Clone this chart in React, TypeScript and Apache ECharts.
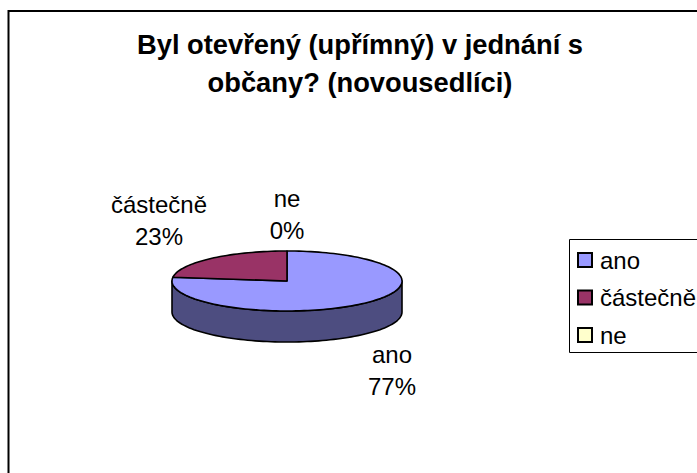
import React, { useEffect, useRef } from "react";
import * as echarts from "echarts";

const titleText = "Byl otevřený (upřímný) v jednání s\nobčany? (novousedlíci)";
const categories = ["ano", "částečně", "ne"];
const values = [77, 23, 0];
const topColors = ["#9999FF", "#993366", "#FFFFCC"];
const wallColors = ["#4D4D80", "#4D1A33", "#808066"];
const labelAnchors = [[392, 370], [159, 220], [287, 214]];

const CX = 287, CY = 281, RX = 115, RY = 30, DEPTH = 31;
const total = values.reduce((a, b) => a + b, 0);
const FONT = '"Liberation Sans", Arial, sans-serif';

function pt(deg: number, dy = 0): number[] {
  const r = (deg * Math.PI) / 180;
  return [CX + RX * Math.sin(r), CY - RY * Math.cos(r) + dy];
}
function arc(a: number, b: number, dy = 0): number[][] {
  const n = Math.max(2, Math.ceil(Math.abs(b - a) / 2));
  const out: number[][] = [];
  for (let i = 0; i <= n; i++) out.push(pt(a + ((b - a) * i) / n, dy));
  return out;
}

function makeRenderItem(index: number) {
  const before = values.slice(0, index).reduce((a, b) => a + b, 0);
  return (_params: any, api: any) => {
    const v = api.value(0) as number;
    const start = (before / total) * 360;
    const end = ((before + v) / total) * 360;
    const children: any[] = [];
    const stroke = { stroke: "#000", lineWidth: 1.6, lineJoin: "round" };
    if (v > 0) {
      const a = Math.max(start, 90);
      const b = Math.min(end, 270);
      if (b > a) {
        children.push({
          type: "polygon",
          shape: { points: [...arc(a, b, DEPTH), ...arc(b, a, 0)] },
          style: { fill: wallColors[index], ...stroke },
        });
      }
      children.push({
        type: "polygon",
        shape: { points: [[CX, CY], ...arc(start, end)] },
        style: { fill: topColors[index], ...stroke },
      });
    }
    const [lx, ly] = labelAnchors[index];
    children.push({
      type: "text",
      x: lx,
      y: ly,
      style: {
        text: `${categories[index]}\n${Math.round((v / total) * 100)}%`,
        fontFamily: FONT,
        fontSize: 24,
        lineHeight: 32,
        fill: "#000",
        align: "center",
        verticalAlign: "middle",
      },
    });
    return { type: "group", children };
  };
}

export default function App() {
  const ref = useRef<HTMLDivElement>(null);
  useEffect(() => {
    document.body.style.margin = "0";
    const chart = echarts.init(ref.current!, null, { renderer: "svg" });
    chart.setOption({
      animation: false,
      backgroundColor: "#fff",
      title: {
        text: titleText,
        left: 355,
        top: 20,
        textAlign: "center",
        textStyle: { fontFamily: FONT, fontSize: 27.3, fontWeight: "bold", color: "#000", lineHeight: 38 },
      },
      legend: {
        orient: "vertical",
        left: 577,
        top: 248,
        selectedMode: false,
        data: categories,
        icon: "rect",
        itemWidth: 14,
        itemHeight: 14,
        itemGap: 13.5,
        padding: 0,
        textStyle: { fontFamily: FONT, fontSize: 24, color: "#000", padding: [0, 0, 4, 3] },
      },
      graphic: [
        {
          type: "rect",
          silent: true,
          z: -1,
          shape: { x: 8.5, y: 11, width: 800, height: 600 },
          style: { fill: "#fff", stroke: "#000", lineWidth: 2 },
        },
        {
          type: "rect",
          silent: true,
          z: 0,
          shape: { x: 569.5, y: 239.5, width: 200, height: 113 },
          style: { fill: "#fff", stroke: "#000", lineWidth: 1 },
        },
      ],
      series: categories.map((name, i) => ({
        type: "custom",
        name,
        coordinateSystem: "none",
        renderItem: makeRenderItem(i),
        data: [[values[i]]],
        itemStyle: { color: topColors[i], borderColor: "#000", borderWidth: 1.6 },
      })),
    });
    return () => chart.dispose();
  }, []);
  return <div ref={ref} style={{ width: 697, height: 473 }} />;
}
